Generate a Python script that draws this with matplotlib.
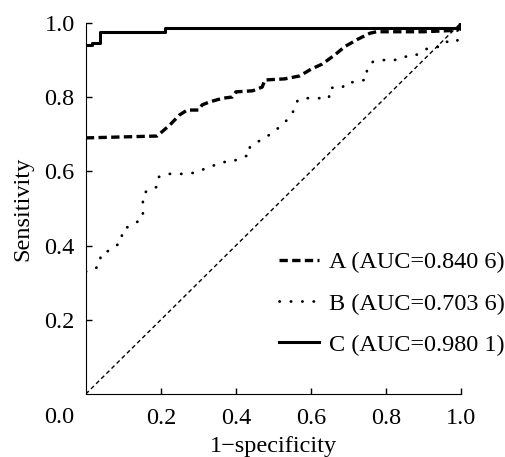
import matplotlib
matplotlib.use("Agg")
import matplotlib.pyplot as plt
import matplotlib.transforms as mtransforms

plt.rcParams['font.family'] = ['Liberation Serif', 'DejaVu Serif']
plt.rcParams['font.size'] = 17.5

# ROC curve points
fpr_a = [0.0, 0.19, 0.224, 0.25, 0.27, 0.30, 0.31, 0.33, 0.365, 0.39, 0.40, 0.445,
         0.47, 0.477, 0.53, 0.57, 0.60, 0.63, 0.664, 0.69, 0.725, 0.757, 0.775,
         0.90, 0.99, 1.0]
tpr_a = [0.69, 0.695, 0.725, 0.752, 0.765, 0.765, 0.779, 0.787, 0.797, 0.80, 0.814,
         0.817, 0.827, 0.846, 0.849, 0.857, 0.875, 0.889, 0.914, 0.936, 0.956, 0.972,
         0.976, 0.976, 0.98, 1.0]

fpr_b = [0.0, 0.021, 0.037, 0.04, 0.059, 0.077, 0.096, 0.096, 0.115, 0.133, 0.152,
         0.152, 0.152, 0.165, 0.19, 0.195, 0.216, 0.27, 0.30, 0.32, 0.345, 0.365,
         0.39, 0.41, 0.437, 0.437, 0.459, 0.477, 0.496, 0.517, 0.536, 0.552, 0.555,
         0.565, 0.59, 0.648, 0.65, 0.683, 0.695, 0.725, 0.749, 0.749, 0.765, 0.79,
         0.819, 0.845, 0.872, 0.896, 0.912, 0.944, 0.957, 0.989, 0.997, 1.0]
tpr_b = [0.33, 0.334, 0.348, 0.377, 0.385, 0.396, 0.412, 0.44, 0.452, 0.461, 0.474,
         0.504, 0.536, 0.55, 0.558, 0.585, 0.593, 0.593, 0.598, 0.609, 0.617, 0.625,
         0.625, 0.636, 0.644, 0.666, 0.68, 0.69, 0.703, 0.72, 0.738, 0.76, 0.77,
         0.792, 0.797, 0.797, 0.825, 0.825, 0.84, 0.84, 0.849, 0.876, 0.895, 0.90,
         0.898, 0.909, 0.909, 0.922, 0.932, 0.936, 0.949, 0.949, 0.973, 1.0]

fpr_c = [0.0, 0.016, 0.016, 0.037, 0.037, 0.21, 0.21, 1.0, 1.0]
tpr_c = [0.941, 0.941, 0.947, 0.947, 0.976, 0.976, 0.986, 0.986, 1.0]

labels = ['A (AUC=0.840 6)', 'B (AUC=0.703 6)', 'C (AUC=0.980 1)']
ticks = [0.2, 0.4, 0.6, 0.8, 1.0]

fig = plt.figure(figsize=(5.05, 4.57), dpi=100)
ax = fig.add_axes([0.170, 0.138, 0.743, 0.812])

ax.plot([0, 1], [0, 1], color='black', lw=1.0, linestyle=(0, (3, 2.2)))
ax.plot(fpr_a, tpr_a, color='black', lw=2.4, linestyle=(0, (2.5, 1.3)), label=labels[0])
ax.plot(fpr_b, tpr_b, color='black', lw=2.0, linestyle=(0, (0.1, 4.0)),
        dash_capstyle='round', label=labels[1])
ax.plot(fpr_c, tpr_c, color='black', lw=2.2, label=labels[2])

ax.set_xlim(0, 1)
ax.set_ylim(0, 1)
ax.set_xticks(ticks)
ax.set_yticks(ticks)
ax.xaxis.set_major_formatter(plt.FormatStrFormatter('%.1f'))
ax.yaxis.set_major_formatter(plt.FormatStrFormatter('%.1f'))
ax.tick_params(direction='in', length=4, width=1)
ax.tick_params(axis='x', pad=10)
ax.tick_params(axis='y', pad=8)
ax.spines['top'].set_visible(False)
ax.spines['right'].set_visible(False)

# shared origin label sitting at the corner
off = mtransforms.offset_copy(ax.transData, fig=fig, x=-8, y=-17, units='points')
ax.text(0, 0, '0.0', transform=off, ha='right', va='center')

ax.set_xlabel('1\u2212specificity', labelpad=5)
ax.set_ylabel('Sensitivity', labelpad=8)

ax.legend(loc='upper left', bbox_to_anchor=(0.515, 0.385), frameon=False,
          borderpad=0, borderaxespad=0, handlelength=1.65, handletextpad=0.4,
          labelspacing=0.8)

fig.savefig('out.png', dpi=100)
